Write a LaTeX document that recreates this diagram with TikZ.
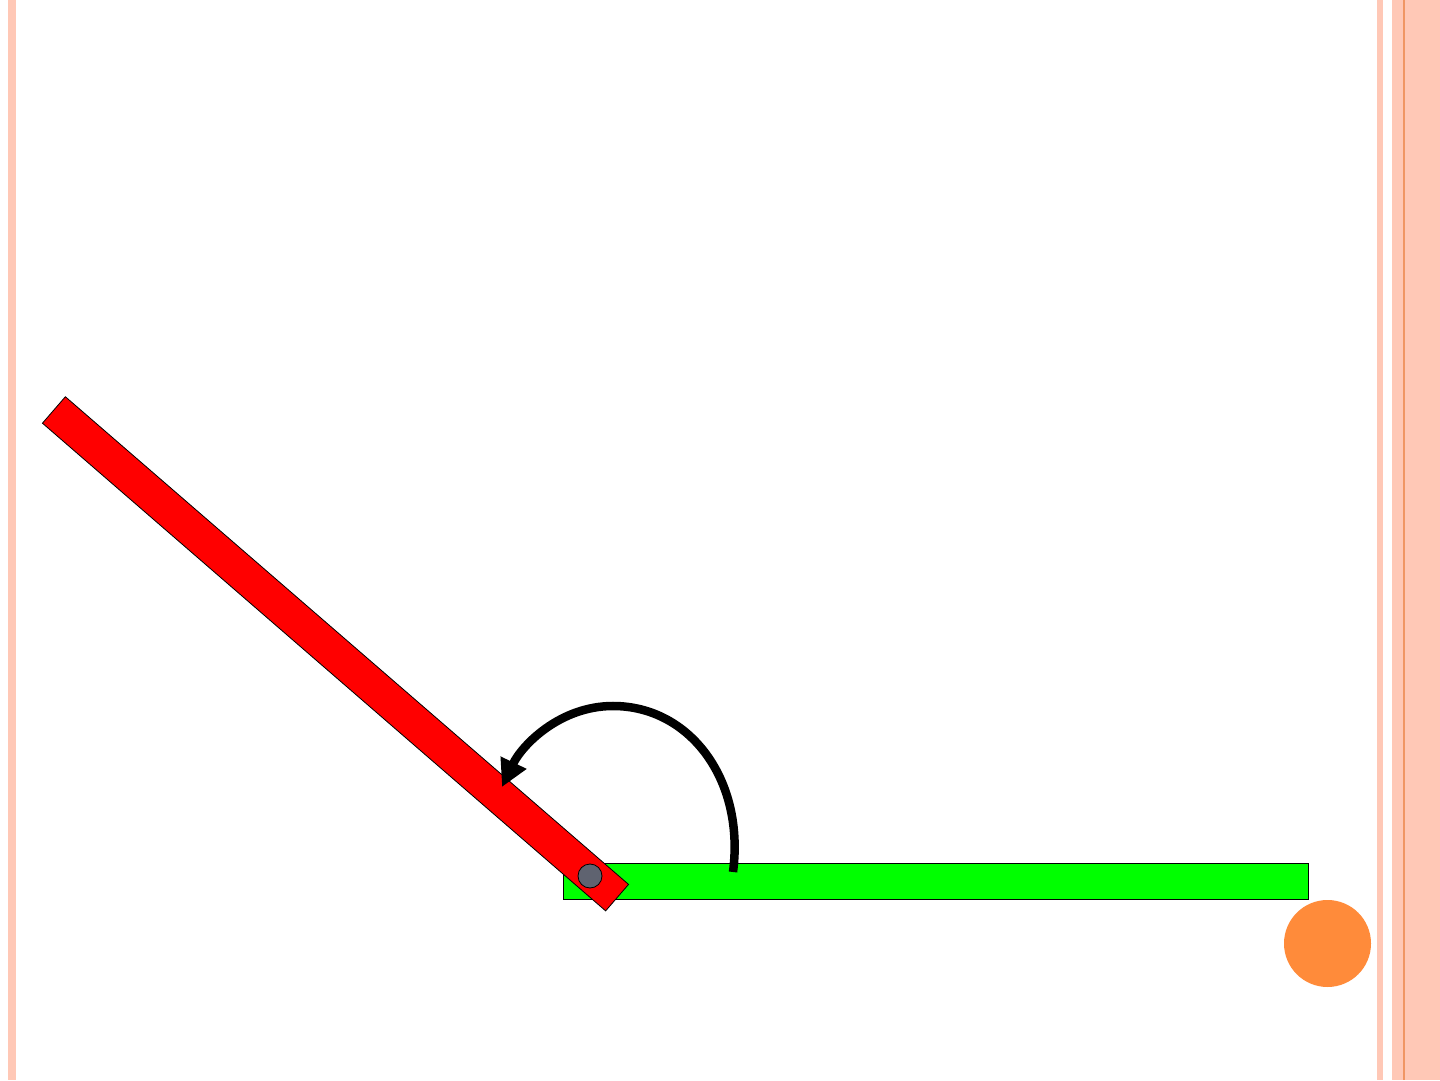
\documentclass[tikz,border=0pt]{standalone}
\usetikzlibrary{arrows.meta}

\definecolor{salmon}{RGB}{255,200,182}
\definecolor{salmonline}{RGB}{240,150,100}
\definecolor{pingrey}{RGB}{95,99,112}
\definecolor{ballorange}{RGB}{255,139,58}

\begin{document}
\begin{tikzpicture}[
    x=1pt, y=1pt,
    bar/.style={
      rectangle,
      draw=black,
      line width=0.8pt,
      inner sep=0pt,
      outer sep=0pt,
      minimum height=35pt
    },
    pin/.style={
      circle,
      inner sep=0pt,
      outer sep=0pt
    },
    turn/.style={
      line width=8.5pt,
      -{Triangle[length=27pt,width=27pt]}
    }
]

\useasboundingbox (0,0) rectangle (1440,1080);

% border stripes
\fill[salmon] (8,0) rectangle (16,1080);
\fill[salmon] (1377,0) rectangle (1383,1080);
\fill[salmon] (1392,0) rectangle (1440,1080);
\fill[salmonline] (1403,0) rectangle (1405,1080);

\node[bar, fill=green, minimum width=745pt, minimum height=36pt] (base) at (935.5,199) {};
\node[bar, fill=red, minimum width=745pt, rotate=-40.89] (lever) at (335.5,426.2) {};

\node[pin, draw=black, line width=0.8pt, fill=pingrey, minimum size=24pt] (hinge) at (590,204) {};
\node[pin, fill=ballorange, minimum size=87pt] (ball) at (1327.5,136.5) {};

\coordinate (start) at (733,208);
\coordinate (top) at (613,374);
\coordinate (tip) at (502,293);

\draw[turn] (start) .. controls (745,300) and (690,374) .. (top)
                    .. controls (560,374) and (522,335) .. (tip);

\end{tikzpicture}
\end{document}
